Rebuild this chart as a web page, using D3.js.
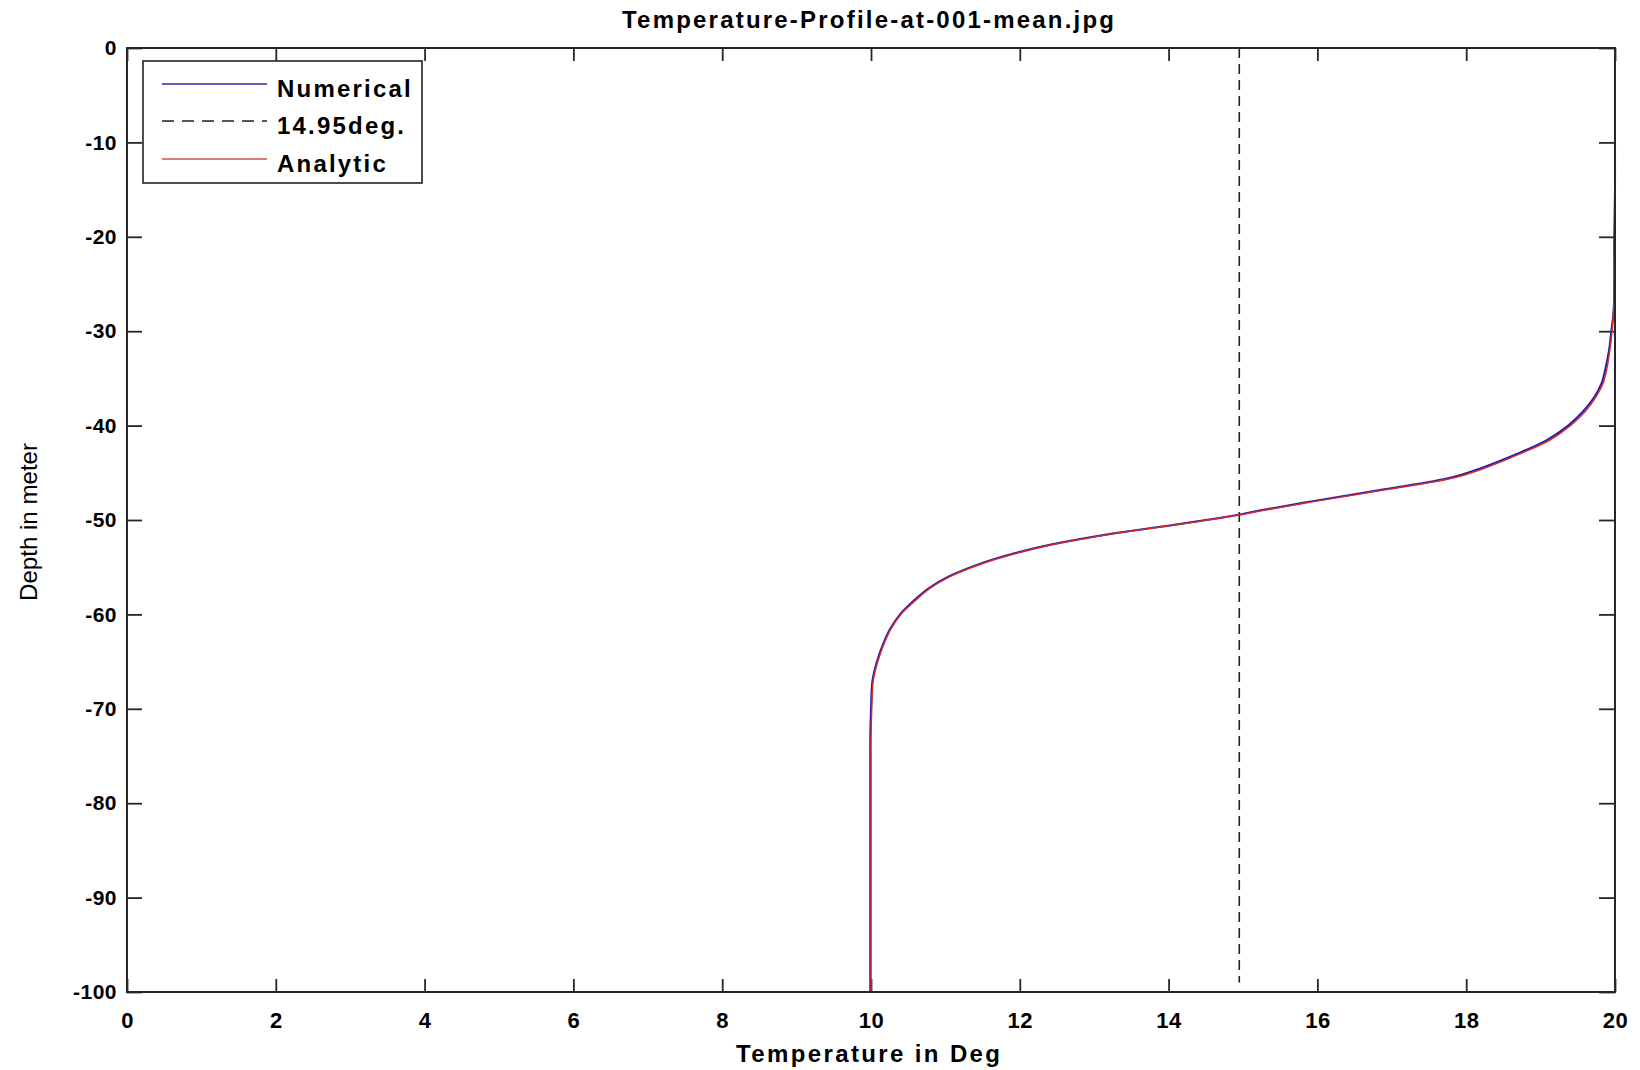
<!DOCTYPE html>
<html>
<head>
<meta charset="utf-8">
<script src="https://cdn.jsdelivr.net/npm/d3@7"></script>
<style>
  html, body { margin: 0; padding: 0; background: #fff; }
  svg { display: block; }
  text { font-family: "Liberation Sans", Arial, Helvetica, sans-serif; fill: #000; }
</style>
</head>
<body>
<svg id="chart" width="1640" height="1070"></svg>
<script>
// ---- data ----
const title = "Temperature-Profile-at-001-mean.jpg";
const xLabel = "Temperature in Deg";
const yLabel = "Depth in meter";
const xTicks = [0, 2, 4, 6, 8, 10, 12, 14, 16, 18, 20];
const yTicks = [0, -10, -20, -30, -40, -50, -60, -70, -80, -90, -100];
const seriesNames = ["Numerical", "14.95deg.", "Analytic"];

const depth = [0, -5, -10, -15, -20, -25, -28, -30, -32, -34, -35.5, -37, -38.5, -40, -41.5, -43, -44.5,
  -45.5, -46.75, -48, -49, -49.5, -50.4, -51.4, -52.6, -53.5, -54.6, -56, -57.2, -58.5, -60, -61.5,
  -63, -65, -67, -70, -73, -76, -80, -85, -90, -95, -100];
const analyticT = [20.0, 20.0, 20.0, 20.0, 20.0, 19.99, 19.98, 19.96, 19.93, 19.89, 19.84, 19.74, 19.6,
  19.4, 19.13, 18.72, 18.25, 17.85, 16.95, 15.99, 15.26, 14.92, 14.2, 13.3, 12.45, 11.97, 11.5, 11.06,
  10.8, 10.6, 10.4, 10.27, 10.18, 10.09, 10.03, 10.01, 10.0, 10.0, 10.0, 10.0, 10.0, 10.0, 10.0];
const numericalT = [20.0, 20.0, 20.0, 20.0, 19.99, 19.99, 19.98, 19.95, 19.92, 19.87, 19.82, 19.72, 19.57,
  19.37, 19.09, 18.68, 18.2, 17.8, 16.9, 15.94, 15.22, 14.9, 14.17, 13.27, 12.42, 11.94, 11.48, 11.04,
  10.78, 10.58, 10.39, 10.26, 10.17, 10.08, 10.02, 10.0, 9.99, 9.99, 9.99, 9.99, 9.99, 9.99, 9.99];
const refTemp = [14.95, 14.95];
const refDepth = [0, -99];

// ---- layout ----
const svg = d3.select("#chart");
const L = 127, R = 1615, T = 48, B = 992;
const x = d3.scaleLinear().domain([0, 20]).range([L, R]);
const y = d3.scaleLinear().domain([-100, 0]).range([B, T]);

const fmt = d => String(d);
const axisColor = "#262626";

// axes
const gB = svg.append("g").attr("transform", `translate(0,${B})`)
  .call(d3.axisBottom(x).tickValues(xTicks).tickSizeInner(-13).tickSizeOuter(0).tickPadding(20).tickFormat(fmt));
const gT = svg.append("g").attr("transform", `translate(0,${T})`)
  .call(d3.axisTop(x).tickValues(xTicks).tickSizeInner(-13).tickSizeOuter(0).tickFormat(""));
const gL = svg.append("g").attr("transform", `translate(${L},0)`)
  .call(d3.axisLeft(y).tickValues(yTicks).tickSizeInner(-15).tickSizeOuter(0).tickPadding(10).tickFormat(fmt));
const gR = svg.append("g").attr("transform", `translate(${R},0)`)
  .call(d3.axisRight(y).tickValues(yTicks).tickSizeInner(-16).tickSizeOuter(0).tickFormat(""));

[gB, gT, gL, gR].forEach(g => {
  g.select(".domain").remove();
  g.selectAll(".tick line").attr("stroke", axisColor).attr("stroke-width", 1.8);
  g.selectAll(".tick text").attr("fill", "#000").style("font-size", "22px").style("font-weight", "bold")
    .style("font-family", "'Liberation Sans', Arial, sans-serif").style("letter-spacing", "0.5px");
});
gL.selectAll(".tick text").style("font-size", "21px");

// lines
const lineGen = d3.line().curve(d3.curveCatmullRom.alpha(0.5)).x(d => x(d[0])).y(d => y(d[1]));
const numData = depth.map((d, i) => [numericalT[i], d]);
const anaData = depth.map((d, i) => [analyticT[i], d]);
const refData = refDepth.map((d, i) => [refTemp[i], d]);

svg.append("path").datum(numData).attr("d", lineGen)
  .attr("fill", "none").attr("stroke", "#1c1cb4").attr("stroke-width", 2);
svg.append("path").datum(refData).attr("d", d3.line().x(d => x(d[0])).y(d => y(d[1])))
  .attr("fill", "none").attr("stroke", "#222").attr("stroke-width", 1.6).attr("stroke-dasharray", "10,6");
svg.append("path").datum(anaData).attr("d", lineGen)
  .attr("fill", "none").attr("stroke", "#d22a2a").attr("stroke-width", 1.5);

// frame
svg.append("rect").attr("x", L).attr("y", T).attr("width", R - L).attr("height", B - T)
  .attr("fill", "none").attr("stroke", axisColor).attr("stroke-width", 2);

// legend
const lg = svg.append("g");
lg.append("rect").attr("x", 143).attr("y", 61).attr("width", 279).attr("height", 122)
  .attr("fill", "#fff").attr("stroke", "#222").attr("stroke-width", 1.6);
const legendStyles = [
  { color: "#2a2aa8", dash: null, width: 1.5 },
  { color: "#222", dash: "12,8", width: 1.5 },
  { color: "#c85050", dash: null, width: 1.5 }
];
const rowY = [84, 121, 159];
seriesNames.forEach((name, i) => {
  const ln = lg.append("line").attr("x1", 162).attr("x2", 267).attr("y1", rowY[i]).attr("y2", rowY[i])
    .attr("stroke", legendStyles[i].color).attr("stroke-width", legendStyles[i].width);
  if (legendStyles[i].dash) ln.attr("stroke-dasharray", legendStyles[i].dash);
  lg.append("text").attr("x", 277).attr("y", rowY[i] + 13).text(name)
    .style("font-size", "24px").style("font-weight", "bold").style("letter-spacing", "2.2px");
});

// title and labels
svg.append("text").attr("x", 868).attr("y", 28).attr("text-anchor", "middle").text(title)
  .attr("textLength", 492).attr("lengthAdjust", "spacing")
  .style("font-size", "24px").style("font-weight", "bold");
svg.append("text").attr("x", 868).attr("y", 1062).attr("text-anchor", "middle").text(xLabel)
  .attr("textLength", 264).attr("lengthAdjust", "spacing")
  .style("font-size", "24px").style("font-weight", "bold");
svg.append("text").attr("transform", "translate(37,522) rotate(-90)").attr("text-anchor", "middle").text(yLabel)
  .attr("textLength", 158).attr("lengthAdjust", "spacingAndGlyphs")
  .style("font-size", "24px").style("font-family", "'Liberation Sans Narrow', 'Liberation Sans', sans-serif");
</script>
</body>
</html>
